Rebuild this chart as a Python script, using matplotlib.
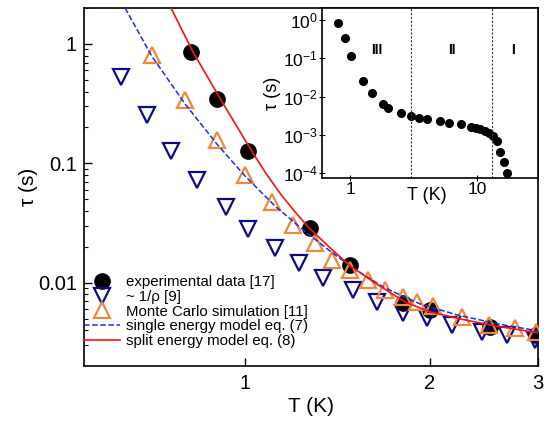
import numpy as np
import matplotlib
matplotlib.use("Agg")
import matplotlib.pyplot as plt
from matplotlib.ticker import NullLocator, NullFormatter, LogLocator

plt.rcParams['font.family'] = ['Liberation Sans', 'DejaVu Sans']
plt.rcParams['mathtext.fontset'] = 'custom'
plt.rcParams['mathtext.rm'] = 'Liberation Sans'
plt.rcParams['mathtext.it'] = 'Liberation Sans:italic'
plt.rcParams['mathtext.bf'] = 'Liberation Sans:bold'

# experimental data [17]
T_exp = [0.817, 0.900, 1.011, 1.276, 1.48, 1.81, 2.0, 2.506, 2.98]
tau_exp = [0.857, 0.346, 0.127, 0.0289, 0.0142, 0.0068, 0.0059, 0.00428, 0.00367]

# ~ 1/rho [9]
T_rho = [0.628, 0.692, 0.758, 0.835, 0.931, 1.011, 1.119, 1.224, 1.34, 1.50,
         1.64, 1.81, 1.98, 2.17, 2.43, 2.67, 2.97]
tau_rho = [0.53, 0.255, 0.127, 0.0728, 0.0433, 0.0283, 0.0196, 0.0147, 0.011,
           0.00874, 0.00694, 0.00561, 0.0051, 0.00446, 0.00389, 0.00367, 0.00333]

# Monte Carlo simulation [11]
T_mc = [0.706, 0.798, 0.900, 1.0, 1.106, 1.197, 1.30, 1.386, 1.48, 1.585,
        1.69, 1.81, 1.905, 2.02, 2.26, 2.5, 2.75, 2.98]
tau_mc = [0.809, 0.34, 0.157, 0.080, 0.0476, 0.0306, 0.0216, 0.0156, 0.01285,
          0.0106, 0.00873, 0.00764, 0.00694, 0.00645, 0.0052, 0.00446, 0.0042, 0.0039]

# single energy model eq. (7)
T_single = [0.638, 0.705, 0.799, 0.900, 1.0, 1.119, 1.252, 1.375, 1.499,
            1.678, 1.809, 1.928, 2.214, 2.602, 3.0]
tau_single = [2.0, 0.793, 0.315, 0.1456, 0.0786, 0.0441, 0.0270, 0.01854, 0.01336,
              0.00926, 0.00773, 0.00667, 0.0054, 0.0045, 0.00397]

# split energy model eq. (8)
T_split = [0.758, 0.823, 0.914, 1.023, 1.082, 1.149, 1.211, 1.271, 1.375, 1.483,
           1.647, 1.822, 2.0, 2.239, 2.506, 3.0]
tau_split = [2.0, 0.857, 0.340, 0.1297, 0.0825, 0.0535, 0.0385, 0.0289, 0.01974,
             0.01388, 0.00962, 0.00694, 0.00572, 0.0050, 0.00445, 0.00382]

# inset: full temperature range
T_in = [0.809, 0.902, 1.013, 1.266, 1.49, 1.81, 2.0, 2.51, 3.0, 3.49, 4.04,
        5.05, 6.02, 7.48, 8.92, 9.77, 10.56, 11.41, 12.27, 13.2, 14.3, 15.2,
        16.1, 17.1]
tau_in = [0.82, 0.333, 0.117, 0.026, 0.0122, 0.0063, 0.00495, 0.00366, 0.00311,
          0.00282, 0.00255, 0.00231, 0.00208, 0.00189, 0.00161, 0.00151, 0.0014,
          0.00126, 0.00112, 0.000936, 0.000693, 0.000364, 0.0002, 0.0001]
regime_T = [3.0, 13.1]
regime_names = ['III', 'II', 'I']
regime_label_T = [1.63, 6.3, 19.0]

navy = '#0a0a8a'
orange = '#f0883a'

fig = plt.figure(figsize=(5.49, 4.23), dpi=100)
ax = fig.add_axes([0.153, 0.135, 0.827, 0.846])

ax.plot(T_exp, tau_exp, 'o', color='black', ms=11, label='experimental data [17]', zorder=3)
ax.plot(T_rho, tau_rho, 'v', mfc='none', mec=navy, mew=1.6, ms=11, label='~ 1/\u03c1 [9]', zorder=4)
ax.plot(T_mc, tau_mc, '^', mfc='none', mec=orange, mew=1.6, ms=11, label='Monte Carlo simulation [11]', zorder=4)
ax.plot(T_single, tau_single, '--', color='#1a2ee6', lw=1.1, label='single energy model eq. (7)', zorder=5)
ax.plot(T_split, tau_split, '-', color='#ff1010', lw=1.2, label='split energy model eq. (8)', zorder=5)

ax.set_xscale('log')
ax.set_yscale('log')
ax.set_xlim(0.547, 3.0)
ax.set_ylim(0.00202, 2.0)
ax.set_xticks([1, 2, 3])
ax.set_xticklabels(['1', '2', '3'])
ax.xaxis.set_minor_locator(NullLocator())
ax.set_yticks([0.01, 0.1, 1])
ax.set_yticklabels(['0.01', '0.1', '1'])
ax.yaxis.set_minor_locator(LogLocator(base=10, subs=np.arange(2, 10)))
ax.yaxis.set_minor_formatter(NullFormatter())
ax.tick_params(which='both', direction='in', labelsize=14.5)
ax.tick_params(which='major', length=6, width=1)
ax.tick_params(which='minor', length=3, width=0.8)
ax.tick_params(axis='x', pad=6)
ax.tick_params(axis='y', pad=5)
for s in ax.spines.values():
    s.set_linewidth(1.2)
ax.set_xlabel('T (K)', fontsize=15, labelpad=3)
ax.set_ylabel('\u03c4 (s)', fontsize=15, labelpad=0)

ax.legend(loc='lower left', bbox_to_anchor=(0.0, 0.05), frameon=False, fontsize=10.8,
          handlelength=2.4, handletextpad=0.4, labelspacing=0.05, borderpad=0,
          borderaxespad=0)

# inset
ins = fig.add_axes([0.5865, 0.579, 0.3935, 0.402])
ins.plot(T_in, tau_in, 'o', color='black', ms=5.5, clip_on=False)
for t in regime_T:
    ins.axvline(t, color='#333333', ls=(0, (2, 1.5)), lw=0.8)
for name, t in zip(regime_names, regime_label_T):
    ins.text(t, 0.16, name, ha='center', va='center', fontsize=10, fontweight='bold')
ins.set_xscale('log')
ins.set_yscale('log')
ins.set_xlim(0.6, 30)
ins.set_ylim(10**-4.13, 10**0.31)
ins.set_xticks([1, 10])
ins.set_xticklabels(['1', '10'])
ins.xaxis.set_minor_locator(NullLocator())
ins.set_yticks([1e-4, 1e-3, 1e-2, 1e-1, 1])
ins.set_yticklabels(['$10^{-4}$', '$10^{-3}$', '$10^{-2}$', '$10^{-1}$', '$10^{0}$'])
ins.yaxis.set_minor_locator(NullLocator())
ins.tick_params(which='both', direction='inout', length=4, labelsize=12.5, pad=1)
ins.set_xlabel('T (K)', fontsize=13)
ins.xaxis.set_label_coords(0.486, -0.05)
ins.set_ylabel('\u03c4 (s)', fontsize=13, labelpad=1)
for s in ins.spines.values():
    s.set_linewidth(1.2)

fig.savefig('out.png', dpi=100)
